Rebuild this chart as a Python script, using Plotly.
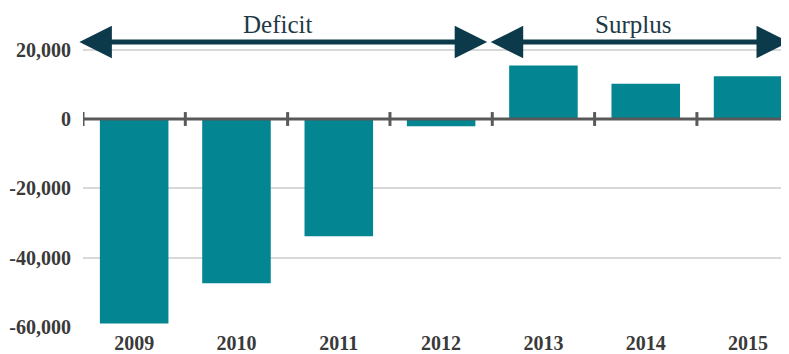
import plotly.graph_objects as go

years = ["2009", "2010", "2011", "2012", "2013", "2014", "2015"]
balance = [-59000, -47400, -33800, -2100, 15400, 10200, 12300]
y_ticks = [-60000, -40000, -20000, 0, 20000]
y_tick_labels = ["-60,000", "-40,000", "-20,000", "0", "20,000"]
phase_labels = ["Deficit", "Surplus"]
phase_spans = [(-0.55, 3.45), (3.47, 6.4)]
phase_label_x = [1.40, 4.88]

BAR = "#038592"
ARROW = "#0d3a4a"
AXIS = "#595959"
GRID = "#d9d9d9"
FONT = "Liberation Serif"

fig = go.Figure()
fig.add_trace(go.Bar(x=list(range(len(years))), y=balance, marker=dict(color=BAR, line=dict(width=0)),
                     width=0.67, hoverinfo="skip"))

# zero axis line with crossing tick marks
fig.add_shape(type="line", xref="x", yref="y", x0=-0.5, x1=6.6, y0=0, y1=0,
              line=dict(color=AXIS, width=3), layer="above")
for i in range(len(years)):
    fig.add_shape(type="line", xref="x", yref="y", x0=i - 0.5, x1=i - 0.5, y0=-2000, y1=2000,
                  line=dict(color=AXIS, width=3), layer="above")

arrow_y = 22200
for label, (a, b), lx in zip(phase_labels, phase_spans, phase_label_x):
    fig.add_annotation(x=b, y=arrow_y, ax=a, ay=arrow_y, xref="x", yref="y", axref="x", ayref="y",
                       text="", showarrow=True, arrowhead=2, startarrowhead=2, arrowside="end+start",
                       arrowwidth=5, arrowsize=1.3, startarrowsize=1.3, arrowcolor=ARROW, standoff=0,
                       startstandoff=0)
    fig.add_annotation(x=lx, y=27300, xref="x", yref="y", text=label, showarrow=False,
                       font=dict(family=FONT, size=25, color="#1f3a45"))

# the page body has an 8px default margin, so the figure is sized to fill the rest of the window
fig.update_layout(
    width=781, height=346,
    margin=dict(l=75, r=0, t=7, b=27),
    plot_bgcolor="white", paper_bgcolor="white",
    showlegend=False, bargap=0.33,
    xaxis=dict(range=[-0.5, 6.4], tickmode="array", tickvals=list(range(len(years))), ticktext=years,
               showgrid=False, zeroline=False, showline=False, ticks="", automargin=False,
               ticklabelstandoff=2,
               tickfont=dict(family=FONT, size=20, color="#3a3a3a", weight="bold")),
    yaxis=dict(range=[-60000, 30000], tickmode="array", tickvals=y_ticks, ticktext=y_tick_labels,
               showgrid=True, gridcolor=GRID, gridwidth=2, zeroline=False, showline=False, ticks="",
               ticklabelstandoff=11, automargin=False,
               tickfont=dict(family=FONT, size=20, color="#3a3a3a", weight="bold")),
)

fig.write_html("out.html")
